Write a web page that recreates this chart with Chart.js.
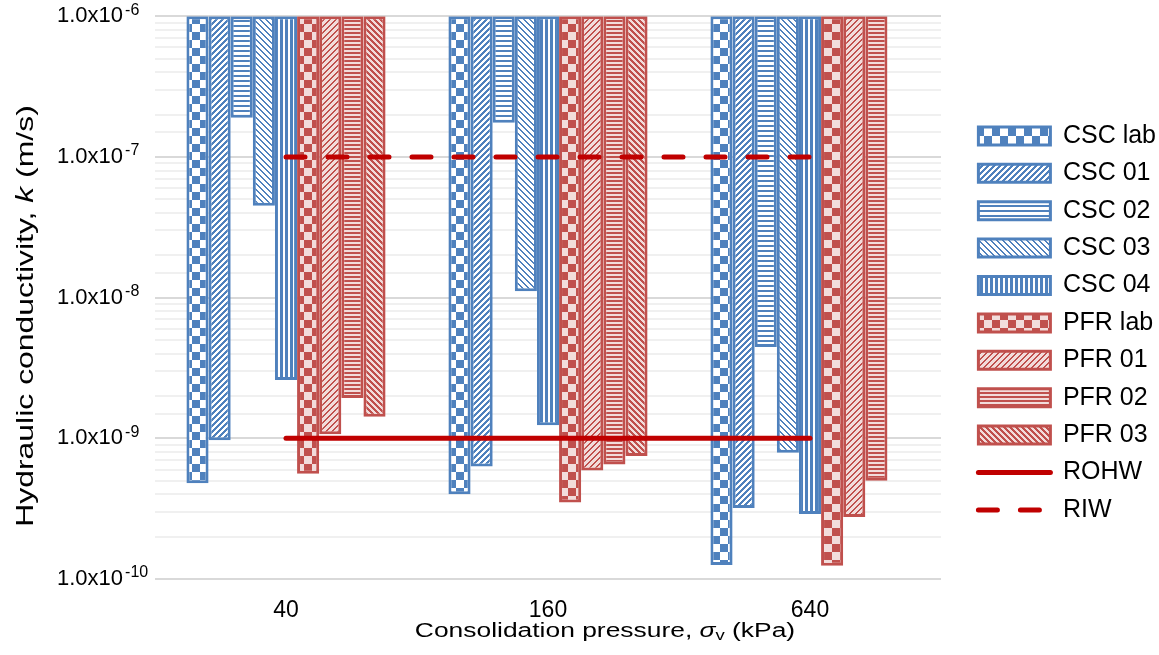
<!DOCTYPE html>
<html>
<head>
<meta charset="utf-8">
<script src="https://cdn.jsdelivr.net/npm/chart.js@4"></script>
<style>
  body { margin: 0; background: #fff; }
  #wrap { width: 1159px; height: 655px; }
</style>
</head>
<body>
<div id="wrap"><canvas id="chart" width="1159" height="655"></canvas></div>
<script>
"use strict";

const pressures = ["40", "160", "640"];
const cscLab = [4.8e-10, 4.0e-10, 1.26e-10];
const csc01 = [9.7e-10, 6.3e-10, 3.2e-10];
const csc02 = [1.9e-7, 1.75e-7, 4.45e-9];
const csc03 = [4.5e-8, 1.11e-8, 7.9e-10];
const csc04 = [2.6e-9, 1.24e-9, 2.9e-10];
const pfrLab = [5.6e-10, 3.5e-10, 1.24e-10];
const pfr01 = [1.07e-9, 5.9e-10, 2.76e-10];
const pfr02 = [1.93e-9, 6.5e-10, 5.0e-10];
const pfr03 = [1.42e-9, 7.5e-10, null];
const rohw = [1e-9, 1e-9, 1e-9];
const riw = [1e-7, 1e-7, 1e-7];
const kTop = 1e-6;
const kBottom = 1e-10;

const BLUE = "#4F81BD";
const RED = "#C0504D";
const PINK = "#F2DCDB";
const WHITE = "#FFFFFF";
const LINE_RED = "#C00000";
const FONT = "'Liberation Sans', Arial, sans-serif";

// pixel patterns like the Excel fills; w = pixels of foreground per period
function makePattern(kind, fg, bg, period, w) {
  const s = kind === "checker" ? 16 : period;
  const c = document.createElement("canvas");
  c.width = s;
  c.height = s;
  const x = c.getContext("2d");
  x.fillStyle = bg;
  x.fillRect(0, 0, s, s);
  x.fillStyle = fg;
  for (let i = 0; i < s; i++) {
    for (let j = 0; j < s; j++) {
      let on = false;
      if (kind === "checker") on = (Math.floor(i / 8) + Math.floor(j / 8)) % 2 === 0;
      else if (kind === "up") on = (i + j) % s < w;
      else if (kind === "down") on = (i - j + s) % s < w;
      else if (kind === "horiz") on = j % s < w;
      else if (kind === "vert") on = i % s < w;
      if (on) x.fillRect(i, j, 1, 1);
    }
  }
  return x.createPattern(c, "repeat");
}

function floating(arr) {
  return arr.map((v) => (v == null ? null : [v, kTop]));
}

function barSet(label, values, fill, fg) {
  return {
    label: label,
    data: floating(values),
    backgroundColor: fill,
    borderColor: fg,
    borderWidth: 3,
    borderSkipped: false,
    order: 1,
  };
}

function lineSet(label, values, dash) {
  return {
    type: "line",
    label: label,
    data: values,
    borderColor: LINE_RED,
    backgroundColor: LINE_RED,
    borderWidth: 5,
    borderCapStyle: "round",
    borderDash: dash,
    pointRadius: 0,
    fill: false,
    order: 0,
  };
}

function isDecade(v) {
  const e = Math.log10(v);
  return Math.abs(e - Math.round(e)) < 1e-6;
}

// text made of pieces with different fonts, centred on cx; sx stretches it along its length
function drawParts(ctx, parts, cx, cy, sx) {
  let total = 0;
  parts.forEach((p) => {
    ctx.font = p.font;
    p.w = ctx.measureText(p.t).width;
    total += p.w;
  });
  ctx.save();
  ctx.translate(cx, cy);
  ctx.scale(sx, 1);
  let x = -total / 2;
  parts.forEach((p) => {
    ctx.font = p.font;
    ctx.fillText(p.t, x, p.dy || 0);
    x += p.w;
  });
  ctx.restore();
}

const axisTitles = {
  id: "axisTitles",
  afterDraw(chart) {
    const ctx = chart.ctx;
    const area = chart.chartArea;
    ctx.save();
    ctx.fillStyle = "#000";
    ctx.textBaseline = "middle";
    ctx.textAlign = "left";
    drawParts(ctx, [
      { t: "Consolidation pressure, ", font: "20px " + FONT },
      { t: "\u03C3", font: "italic 20px " + FONT },
      { t: "v", font: "14px " + FONT, dy: 5 },
      { t: " (kPa)", font: "20px " + FONT },
    ], (area.left + area.right) / 2 + 57, 631, 1.32);
    ctx.save();
    ctx.translate(26, 316);
    ctx.rotate(-Math.PI / 2);
    drawParts(ctx, [
      { t: "Hydraulic conductivity, ", font: "24px " + FONT },
      { t: "k", font: "italic 24px " + FONT },
      { t: " (m/s)", font: "24px " + FONT },
    ], 0, 0, 1.33);
    ctx.restore();

    // exponents of the y tick labels
    const y = chart.scales.y;
    ctx.font = "22px " + FONT;
    const base = ctx.measureText("1.0x10").width;
    ctx.font = "16px " + FONT;
    y.ticks.forEach((t) => {
      if (!isDecade(t.value)) return;
      const e = Math.round(Math.log10(t.value));
      ctx.fillText("-" + Math.abs(e), y.left + base + 2, y.getPixelForValue(t.value) - 6);
    });
    ctx.restore();
  },
};

const legendPlace = {
  id: "legendPlace",
  beforeLayout(chart) {
    const lg = chart.legend;
    if (lg && !lg._wrapped) {
      const fit = lg.fit.bind(lg);
      lg.fit = function () {
        fit();
        this.width = 218;
      };
      lg._wrapped = true;
    }
  },
  afterLayout(chart) {
    const lg = chart.legend;
    const w = lg.width;
    const h = lg.height;
    lg.left = chart.chartArea.right + 25;
    lg.right = lg.left + w;
    lg.top = 111;
    lg.bottom = lg.top + h;
  },
};

const ctx = document.getElementById("chart").getContext("2d");
new Chart(ctx, {
  type: "bar",
  data: {
    labels: pressures,
    datasets: [
      barSet("CSC lab", cscLab, makePattern("checker", BLUE, WHITE), BLUE),
      barSet("CSC 01", csc01, makePattern("up", BLUE, WHITE, 6, 3), BLUE),
      barSet("CSC 02", csc02, makePattern("horiz", BLUE, WHITE, 5, 2), BLUE),
      barSet("CSC 03", csc03, makePattern("down", BLUE, WHITE, 6, 2), BLUE),
      barSet("CSC 04", csc04, makePattern("vert", BLUE, WHITE, 5, 3), BLUE),
      barSet("PFR lab", pfrLab, makePattern("checker", RED, PINK), RED),
      barSet("PFR 01", pfr01, makePattern("up", RED, PINK, 6, 2), RED),
      barSet("PFR 02", pfr02, makePattern("horiz", RED, PINK, 4, 2), RED),
      barSet("PFR 03", pfr03, makePattern("down", RED, PINK, 6, 3), RED),
      lineSet("ROHW", rohw, []),
      lineSet("RIW", riw, [19, 23]),
    ],
  },
  options: {
    responsive: false,
    animation: false,
    layout: { padding: { top: 8, left: 57, right: 0, bottom: 0 } },
    datasets: {
      bar: { categoryPercentage: 0.76, barPercentage: 1.0, grouped: true },
    },
    plugins: {
      tooltip: { enabled: false },
      legend: {
        position: "right",
        align: "start",
        labels: {
          usePointStyle: true,
          pointStyleWidth: 72,
          boxHeight: 18,
          padding: 12.4,
          color: "#000",
          font: { family: FONT, size: 25 },
          sort: (a, b) => a.datasetIndex - b.datasetIndex,
          generateLabels(chart) {
            const items = Chart.defaults.plugins.legend.labels.generateLabels(chart);
            items.forEach((it) => {
              const ds = chart.data.datasets[it.datasetIndex];
              if (ds.type === "line") {
                it.pointStyle = "line";
                it.lineDash = ds.borderDash;
                it.lineCap = "round";
                it.lineWidth = ds.borderWidth;
                it.strokeStyle = ds.borderColor;
              } else {
                it.pointStyle = "rect";
              }
            });
            return items;
          },
        },
      },
    },
    scales: {
      x: {
        offset: true,
        grid: { display: false },
        border: { display: false },
        ticks: { color: "#000", font: { family: FONT, size: 23 }, padding: 10 },
        afterFit(scale) {
          scale.height = 76;
        },
      },
      y: {
        type: "logarithmic",
        min: kBottom,
        max: kTop,
        border: { display: false },
        grid: {
          drawTicks: false,
          color: (c) => (c.tick && isDecade(c.tick.value) ? "#D9D9D9" : "#F0F0F0"),
          lineWidth: 2,
        },
        ticks: {
          autoSkip: false,
          crossAlign: "far",
          color: "#000",
          font: { family: FONT, size: 22 },
          callback: (v) => (isDecade(v) ? "1.0x10" : ""),
        },
        afterFit(scale) {
          scale.width = 98;
        },
      },
    },
  },
  plugins: [axisTitles, legendPlace],
});
</script>
</body>
</html>
